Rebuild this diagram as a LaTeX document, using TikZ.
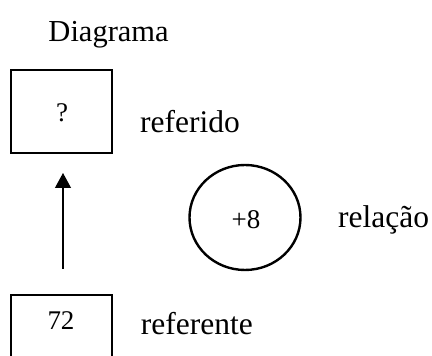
\documentclass[tikz,border=0pt]{standalone}
\usepackage{fontspec}
\setmainfont{Liberation Serif}
\usetikzlibrary{arrows.meta,shapes.geometric}
\tikzset{
  box/.style={draw, line width=2.4pt, minimum width=101pt, inner sep=0pt},
  rel/.style={draw, ellipse, line width=2.4pt, minimum width=111pt, minimum height=105pt, inner sep=0pt},
  label/.style={anchor=base west, inner sep=0pt, font=\fontsize{31.5}{36}\selectfont},
  value/.style={anchor=base, inner sep=0pt, font=\fontsize{27}{30}\selectfont},
  link/.style={line width=1.2pt, -{Triangle[width=16pt,length=15pt]}}
}
\begin{document}
\begin{tikzpicture}[x=1pt,y=1pt]
\useasboundingbox (0,0) rectangle (432,356);
% title
\node[anchor=base west, inner sep=0pt, font=\fontsize{30.5}{36}\selectfont] (title) at (48.3,314) {Diagrama};
% referred box (top)
\node[box, minimum height=83pt] (top) at (61.5,244.5) {};
\node[value] (q) at (62,234) {?};
\node[label] (lref) at (140,223) {referido};
% referent box (bottom, running past the lower edge)
\node[box, minimum height=90pt, anchor=north] (bot) at (61.5,62) {};
\node[value] (v) at (61,26) {72};
\node[label] (lrefe) at (140.7,21) {referente};
% relation
\node[rel] (circ) at (245,138.5) {};
\node[value] (r) at (246,127) {+8};
\node[label] (lrel) at (338,128) {relação};
% arrow from referent towards referred
\coordinate (a0) at (63,87);
\coordinate (a1) at (63,183);
\draw[link] (a0) -- (a1);
\end{tikzpicture}
\end{document}
